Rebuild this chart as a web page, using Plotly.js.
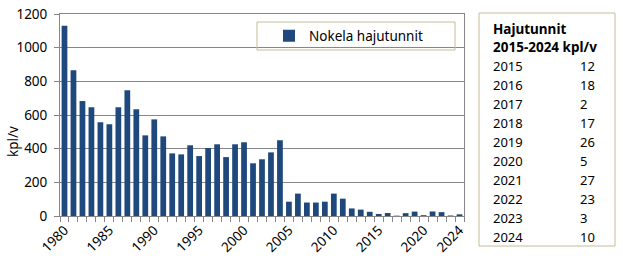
<!DOCTYPE html>
<html>
<head>
<meta charset="utf-8">
<script src="https://cdn.plot.ly/plotly-3.0.1.min.js"></script>
<style>
html,body{margin:0;padding:0;background:#fff;}
#chart{width:623px;height:260px;}
</style>
</head>
<body>
<div id="chart"></div>
<script>
// ---- data ----
var years = [1980,1981,1982,1983,1984,1985,1986,1987,1988,1989,
             1990,1991,1992,1993,1994,1995,1996,1997,1998,1999,
             2000,2001,2002,2003,2004,2005,2006,2007,2008,2009,
             2010,2011,2012,2013,2014,2015,2016,2017,2018,2019,
             2020,2021,2022,2023,2024];
var values = [1130,866,683,646,557,545,646,747,634,479,
              574,473,372,366,420,356,404,426,350,426,
              438,313,337,378,450,85,133,80,80,85,
              133,103,45,38,25,12,18,2,17,26,
              5,27,23,3,10];
var tickYears = [1980,1985,1990,1995,2000,2005,2010,2015,2020,2024];
var seriesName = "Nokela hajutunnit";
var yTitle = "kpl/v";
var tableTitle1 = "Hajutunnit";
var tableTitle2 = "2015-2024 kpl/v";
var tableFrom = 2015;

// ---- layout helpers (pixel -> paper) ----
var L = 60, R = 464, T = 14, B = 216;
function px(x){ return (x - L) / (R - L); }
function py(y){ return (B - y) / (B - T); }

var font = "'Noto Sans', 'Open Sans', sans-serif";
var grid = "#868686";
var khaki = "#c4bd97";

var boundaries = years.map(function(y){ return y - 0.5; });
boundaries.push(years[years.length-1] + 0.5);

var annotations = [];
annotations.push({xref:'paper', yref:'paper', x:px(13), y:py(142), text:yTitle,
  textangle:-90, showarrow:false, font:{family:font, size:13.5, color:'#000'},
  xanchor:'center', yanchor:'middle'});
annotations.push({xref:'paper', yref:'paper', x:px(491), y:py(29), text:'<b>'+tableTitle1+'</b>',
  showarrow:false, font:{family:font, size:13.5, color:'#000'}, xanchor:'left', yanchor:'middle'});
annotations.push({xref:'paper', yref:'paper', x:px(491), y:py(47), text:'<b>'+tableTitle2+'</b>',
  showarrow:false, font:{family:font, size:13.5, color:'#000'}, xanchor:'left', yanchor:'middle'});
var row = 0;
years.forEach(function(yr, i){
  if (yr < tableFrom) return;
  var yy = 66 + row * 19;
  annotations.push({xref:'paper', yref:'paper', x:px(491), y:py(yy), text:String(yr),
    showarrow:false, font:{family:font, size:13, color:'#000'}, xanchor:'left', yanchor:'middle'});
  annotations.push({xref:'paper', yref:'paper', x:px(578), y:py(yy), text:String(values[i]),
    showarrow:false, font:{family:font, size:13, color:'#000'}, xanchor:'left', yanchor:'middle'});
  row++;
});

var shapes = [
  {type:'rect', xref:'paper', yref:'paper', x0:px(257), x1:px(455), y0:py(50), y1:py(22),
   line:{color:khaki, width:1}, fillcolor:'rgba(255,255,255,0)', layer:'above'},
  {type:'rect', xref:'paper', yref:'paper', x0:px(479), x1:px(615), y0:py(246), y1:py(13),
   line:{color:khaki, width:1}, fillcolor:'rgba(255,255,255,0)', layer:'above'}
];

var trace = {
  type:'bar', x:years, y:values, name:seriesName,
  marker:{color:'#1f497d', line:{width:0}}, width:0.64,
  showlegend:true, hoverinfo:'skip'
};

var layout = {
  width:623, height:260,
  margin:{l:L, r:623-R, t:T, b:260-B, pad:0},
  paper_bgcolor:'#fff', plot_bgcolor:'#fff',
  font:{family:font, size:13, color:'#000'},
  showlegend:true,
  legend:{x:px(269), y:py(36), xanchor:'left', yanchor:'middle', bgcolor:'rgba(0,0,0,0)',
    borderwidth:0, font:{family:font, size:13.5, color:'#000'}},
  xaxis:{range:[years[0]-0.5, years[years.length-1]+0.5], tickmode:'array', tickvals:tickYears,
    ticktext:tickYears.map(String), tickangle:-45, ticks:'', showgrid:false, zeroline:false,
    showline:true, linecolor:grid, linewidth:1, mirror:true,
    tickfont:{family:font, size:13.5, color:'#000'},
    minor:{tickmode:'array', tickvals:boundaries, ticks:'outside', ticklen:5, tickcolor:grid, tickwidth:1, showgrid:false}},
  yaxis:{range:[0,1200], dtick:200, tick0:0, ticks:'outside', ticklen:5, tickcolor:grid,
    showgrid:true, gridcolor:grid, gridwidth:1, zeroline:false, showline:true, linecolor:grid,
    linewidth:1, mirror:true, tickfont:{family:font, size:13.5, color:'#000'}, ticklabelstandoff:4},
  annotations:annotations, shapes:shapes, bargap:0.36
};

Plotly.newPlot('chart', [trace], layout, {staticPlot:true, displayModeBar:false});
</script>
</body>
</html>
